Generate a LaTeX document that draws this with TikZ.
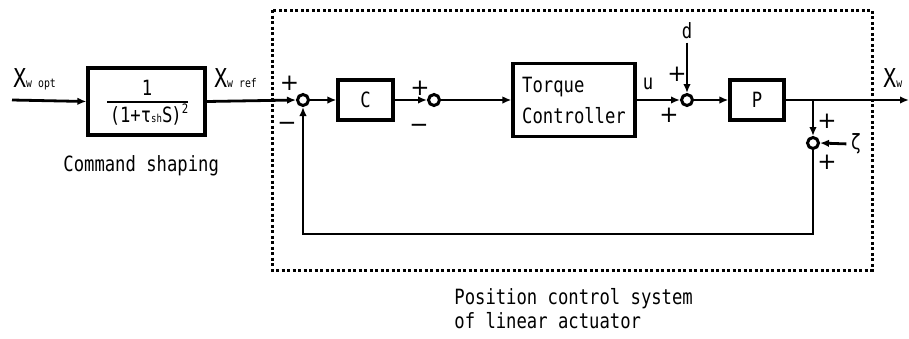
\documentclass[tikz,border=0pt]{standalone}
\usepackage{fontspec}
\usetikzlibrary{arrows.meta}
\newfontfamily\gothic[FakeStretch=0.82]{DejaVu Sans Mono}
\newfontfamily\signf{DejaVu Sans}
\begin{document}
\begin{tikzpicture}[x=1pt,y=-1pt,
  line width=2.8pt,
  >={Latex[length=9pt,width=7.5pt]},
  blk/.style={draw, line width=3.2pt, inner sep=0pt, font=\gothic\fontsize{21}{31}\selectfont},
  sumn/.style={circle, draw, fill=white, line width=3pt, minimum size=11pt, inner sep=0pt},
  txt/.style={font=\gothic\fontsize{21}{24}\selectfont, inner sep=0pt},
  sgn/.style={font=\signf\fontsize{23}{23}\selectfont, inner sep=0pt},
  lbl/.style={inner sep=0pt, anchor=base west},
]
\useasboundingbox (0,0) rectangle (909,338);
% dashed system frame
\draw[line width=3pt, dash pattern=on 3pt off 2.5pt] (272,10) rectangle (872,270);

% command shaping
\node[blk, minimum width=117pt, minimum height=67pt] (sh) at (146.5,101.5) {};
\node[txt, anchor=base] (num) at (147,95) {1};
\node[txt, anchor=base] (den) at (149,122) {(1+τ{\fontsize{11}{11}\selectfont sh}S\kern-1pt)\raisebox{9pt}{\fontsize{13}{13}\selectfont 2}};
\draw[line width=2.2pt] (107,102) -- (188,102);
\node[txt, anchor=base west] (cs) at (62,171) {Command shaping};

\node[lbl] (xopt) at (12,87) {\gothic\fontsize{26}{26}\selectfont X\fontsize{12}{12}\selectfont w opt};
\coordinate (in) at (12,100);
\draw[->] (in) -- (sh.west);
\node[lbl] (xref) at (213,87) {\gothic\fontsize{26}{26}\selectfont X\fontsize{12}{12}\selectfont w ref};

% loop
\node[sumn] (s1) at (303,100) {};
\draw[->] (sh.east) -- (s1.west);
\node[blk, minimum width=55pt, minimum height=40pt] (c) at (365.5,100) {C};
\draw[->] (s1.east) -- (c.west);
\node[sumn] (s2) at (434,100) {};
\draw[->] (c.east) -- (s2.west);
\node[blk, minimum width=122pt, minimum height=73pt, align=left] (tc) at (574,100) {Torque\\Controller};
\draw[->] (s2.east) -- (tc.west);
\node[sumn] (s3) at (687,100) {};
\draw[->] (tc.east) -- (s3.west);
\node[txt] (u) at (648,84) {u};
\node[txt] (d) at (687,31) {d};
\draw[->] (d.south) ++(0,2) -- (s3.north);
\node[blk, minimum width=54pt, minimum height=40pt] (p) at (757,100) {P};
\draw[->] (s3.east) -- (p.west);
\coordinate (out) at (909,100);
\draw[->] (p.east) -- (out);
\node[lbl] (xw) at (882,87) {\gothic\fontsize{26}{26}\selectfont X\fontsize{12}{12}\selectfont w};
\coordinate (br) at (813,100);
\node[sumn] (s4) at (813,143) {};
\draw[->] (br) -- (s4.north);
\node[txt] (z) at (856,144) {ζ};
\draw[->, shorten <=3pt] (z.west) -- (s4.east);
\draw[->] (s4.south) -- (s4.south |- 0,234) -| (s1.south);

% signs
\node[sgn] (p1) at (289.5,83) {+};
\node[sgn] (m1) at (287,126) {−};
\node[sgn] (p2) at (420,88) {+};
\node[sgn] (m2) at (419,128) {−};
\node[sgn] (p3) at (677,74) {+};
\node[sgn] (p4) at (669,115) {+};
\node[sgn] (p5) at (827,121) {+};
\node[sgn] (p6) at (827,162) {+};

\node[txt, anchor=base west, align=left] (pcs) at (453,328) {Position control system\\of linear actuator};
\end{tikzpicture}
\end{document}
